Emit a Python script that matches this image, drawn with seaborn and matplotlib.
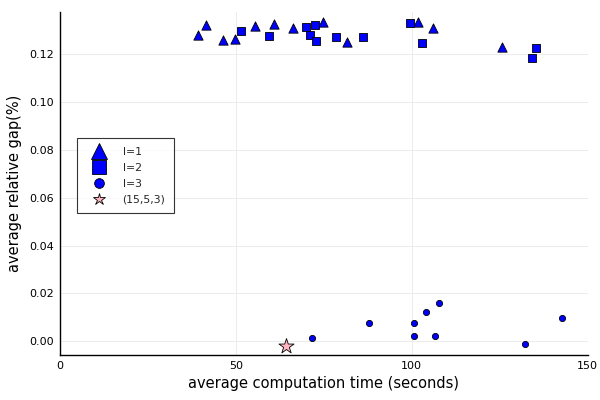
import numpy as np
import pandas as pd
import matplotlib
matplotlib.use("Agg")
import matplotlib.pyplot as plt
from matplotlib.lines import Line2D
import seaborn as sns

# l=1 (triangles)
l1_time = [39.2, 41.7, 46.3, 49.7, 55.5, 61.0, 66.3, 74.8, 81.5, 101.7, 106.1, 125.7]
l1_gap = [0.1282, 0.1324, 0.1261, 0.1264, 0.1317, 0.1325, 0.1311, 0.1337, 0.1253, 0.1335, 0.1309, 0.1230]
# l=2 (squares)
l2_time = [51.5, 59.6, 70.0, 72.4, 71.0, 72.7, 78.5, 86.3, 99.5, 102.9, 135.4, 134.1]
l2_gap = [0.1299, 0.1278, 0.1313, 0.1321, 0.1279, 0.1255, 0.1272, 0.1274, 0.1329, 0.1246, 0.1228, 0.1184]
# l=3 (circles)
l3_time = [71.7, 87.9, 100.6, 100.7, 104.0, 107.8, 106.7, 132.3, 142.7]
l3_gap = [0.0015, 0.0077, 0.0074, 0.0020, 0.0124, 0.0158, 0.0020, -0.0013, 0.0095]
# (15,5,3) star
star_time = [64.2]
star_gap = [-0.0020]

x_ticks = [0, 50, 100, 150]
y_ticks = [0.00, 0.02, 0.04, 0.06, 0.08, 0.10, 0.12]

sns.set_theme(style="white")
plt.rcParams['font.family'] = ['DejaVu Sans']

fig = plt.figure(figsize=(6, 4), dpi=100)
ax = fig.add_axes([0.0995, 0.1118, 0.88, 0.8582])

df1 = pd.DataFrame({"t": l1_time, "g": l1_gap})
df2 = pd.DataFrame({"t": l2_time, "g": l2_gap})
df3 = pd.DataFrame({"t": l3_time, "g": l3_gap})
df4 = pd.DataFrame({"t": star_time, "g": star_gap})

common = dict(edgecolor="black", linewidth=0.6, ax=ax, legend=False, zorder=3)
sns.scatterplot(data=df1, x="t", y="g", marker="^", color="blue", s=45, **common)
sns.scatterplot(data=df2, x="t", y="g", marker="s", color="blue", s=36, **common)
sns.scatterplot(data=df3, x="t", y="g", marker="o", color="blue", s=20, **common)
sns.scatterplot(data=df4, x="t", y="g", marker="*", color="#ffb6c1", s=130, **common)

ax.set_xlim(0, 150)
ax.set_ylim(-0.0059, 0.1377)
ax.set_xticks(x_ticks)
ax.set_xticklabels([str(v) for v in x_ticks])
ax.set_yticks(y_ticks)
ax.set_yticklabels([f"{v:.2f}" for v in y_ticks])

ax.grid(True, color="#ececec", linewidth=0.7, zorder=0)
ax.set_axisbelow(True)
for side in ["top", "right"]:
    ax.spines[side].set_visible(False)
for side in ["left", "bottom"]:
    ax.spines[side].set_color("black")
    ax.spines[side].set_linewidth(1.0)
ax.tick_params(axis="both", direction="in", length=4, width=0.8, colors="black",
               labelsize=8, pad=4)

ax.set_xlabel("average computation time (seconds)", fontsize=10.5, color="black", labelpad=4)
ax.set_ylabel("average relative gap(%)", fontsize=10.5, color="black", labelpad=5)

handles = [
    Line2D([], [], linestyle="none", marker="^", markersize=11, markerfacecolor="blue", markeredgecolor="black", markeredgewidth=0.6),
    Line2D([], [], linestyle="none", marker="s", markersize=10.5, markerfacecolor="blue", markeredgecolor="black", markeredgewidth=0.6),
    Line2D([], [], linestyle="none", marker="o", markersize=7, markerfacecolor="blue", markeredgecolor="black", markeredgewidth=0.6),
    Line2D([], [], linestyle="none", marker="*", markersize=9, markerfacecolor="#ffb6c1", markeredgecolor="black", markeredgewidth=0.6),
]
leg = ax.legend(handles, ["l=1", "l=2", "l=3", "(15,5,3)"], loc="upper left",
                bbox_to_anchor=(0.033, 0.633), borderaxespad=0, fontsize=7.8, frameon=True,
                fancybox=False, edgecolor="black", handletextpad=1.0,
                labelspacing=0.55, borderpad=0.8, handlelength=2.4)
leg.get_frame().set_linewidth(0.8)

fig.savefig("out.png", dpi=100)
